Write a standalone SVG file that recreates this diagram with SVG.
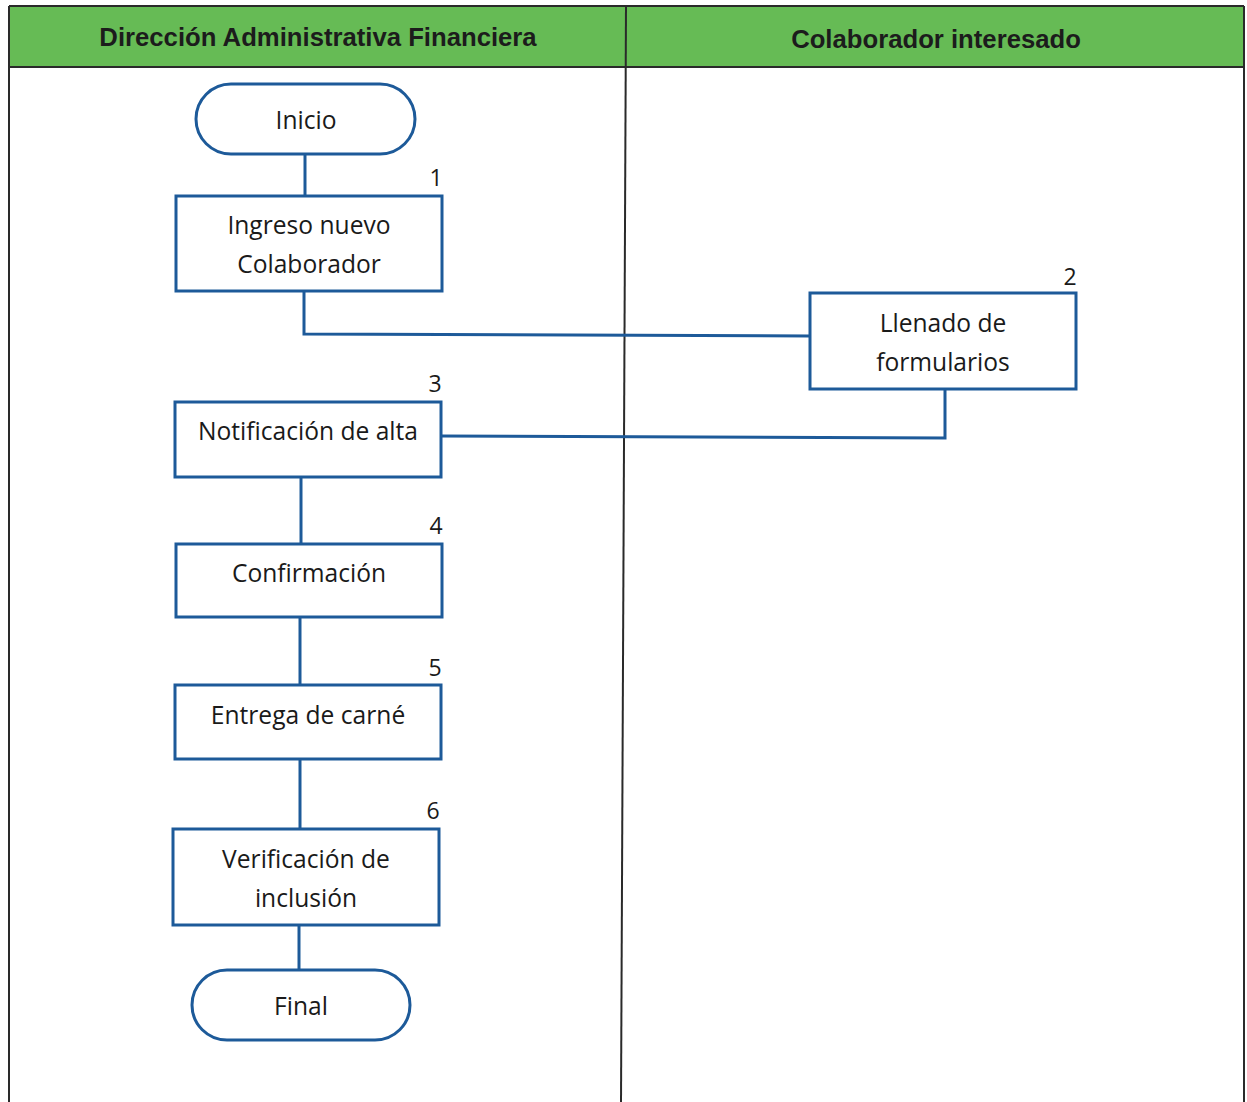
<svg xmlns="http://www.w3.org/2000/svg" width="1247" height="1102" viewBox="0 0 1247 1102">
  <style>
    .lane { fill: none; stroke: #2a2a2a; stroke-width: 2; }
    .head { fill: #66bb55; }
    .headtxt { font-family: "Liberation Sans", Arial, sans-serif; font-weight: bold; font-size: 25.7px; fill: #1c1c1c; text-anchor: middle; }
    .shape { fill: #ffffff; stroke: #1d5a99; stroke-width: 3; }
    .txt { font-family: "Open Sans", "Liberation Sans", sans-serif; font-size: 24.6px; fill: #1a1a1a; text-anchor: middle; }
    .num { font-family: "Open Sans", "Liberation Sans", sans-serif; font-size: 23px; fill: #1a1a1a; text-anchor: middle; }
    .conn { fill: none; stroke: #1d5a99; stroke-width: 3; }
  </style>

  <rect width="1247" height="1102" fill="#ffffff"/>

  <!-- swimlane frame -->
  <g id="lanes">
    <rect class="head" x="9" y="6" width="1235" height="61"/>
    <line class="lane" x1="9" y1="6" x2="1244" y2="6"/>
    <line class="lane" x1="9" y1="67" x2="1244" y2="67"/>
    <line class="lane" x1="9" y1="6" x2="9" y2="1102"/>
    <line class="lane" x1="1244" y1="6" x2="1244" y2="1102"/>
    <line class="lane" x1="626" y1="6" x2="621" y2="1102"/>
    <text class="headtxt" x="318" y="46">Dirección Administrativa Financiera</text>
    <text class="headtxt" x="936" y="48">Colaborador interesado</text>
  </g>

  <!-- connectors -->
  <g id="connectors">
    <line class="conn" x1="305" y1="154" x2="305" y2="196"/>
    <polyline class="conn" points="304,291 304,334 810,336"/>
    <polyline class="conn" points="945,389 945,438 441,436"/>
    <line class="conn" x1="301" y1="477" x2="301" y2="544"/>
    <line class="conn" x1="300" y1="617" x2="300" y2="685"/>
    <line class="conn" x1="300" y1="759" x2="300" y2="829"/>
    <line class="conn" x1="299" y1="925" x2="299" y2="970"/>
  </g>

  <g id="inicio">
    <rect class="shape" x="196" y="84" width="219" height="70" rx="35"/>
    <text class="txt" x="306" y="129">Inicio</text>
  </g>

  <g id="paso1">
    <rect class="shape" x="176" y="196" width="266" height="95"/>
    <text class="num" x="436" y="186">1</text>
    <text class="txt" x="309" y="234">Ingreso nuevo</text>
    <text class="txt" x="309" y="273">Colaborador</text>
  </g>

  <g id="paso2">
    <rect class="shape" x="810" y="293" width="266" height="96"/>
    <text class="num" x="1070" y="285">2</text>
    <text class="txt" x="943" y="332">Llenado de</text>
    <text class="txt" x="943" y="371">formularios</text>
  </g>

  <g id="paso3">
    <rect class="shape" x="175" y="402" width="266" height="75"/>
    <text class="num" x="435" y="392">3</text>
    <text class="txt" x="308" y="440">Notificación de alta</text>
  </g>

  <g id="paso4">
    <rect class="shape" x="176" y="544" width="266" height="73"/>
    <text class="num" x="436" y="534">4</text>
    <text class="txt" x="309" y="582">Confirmación</text>
  </g>

  <g id="paso5">
    <rect class="shape" x="175" y="685" width="266" height="74"/>
    <text class="num" x="435" y="676">5</text>
    <text class="txt" x="308" y="724">Entrega de carné</text>
  </g>

  <g id="paso6">
    <rect class="shape" x="173" y="829" width="266" height="96"/>
    <text class="num" x="433" y="819">6</text>
    <text class="txt" x="306" y="868">Verificación de</text>
    <text class="txt" x="306" y="907">inclusión</text>
  </g>

  <g id="final">
    <rect class="shape" x="192" y="970" width="218" height="70" rx="35"/>
    <text class="txt" x="301" y="1015">Final</text>
  </g>
</svg>
